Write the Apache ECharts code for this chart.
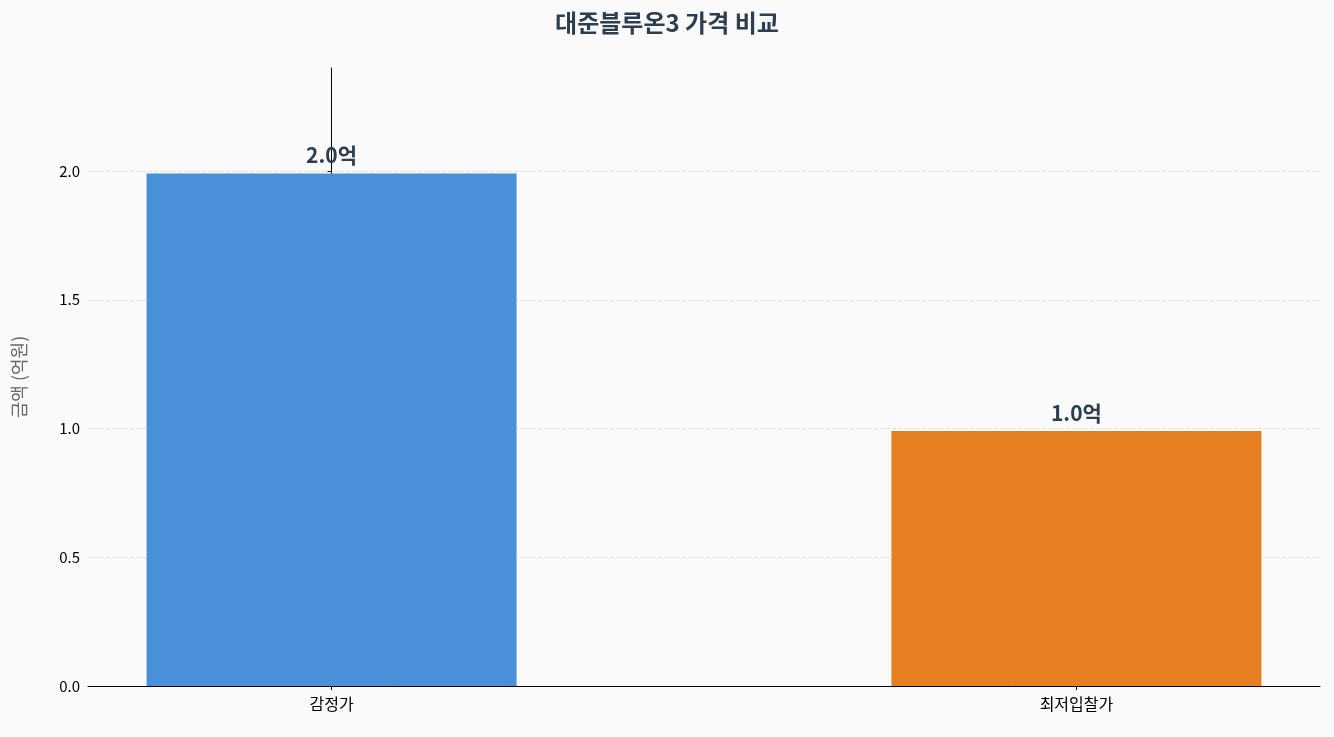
<!DOCTYPE html>
<html><head><meta charset="utf-8">
<script src="https://cdn.jsdelivr.net/npm/echarts@6/dist/echarts.min.js"></script>
<style>html,body{margin:0;background:#fafafa}#c{width:1334px;height:737px}</style>
</head><body><div id="c"></div>
<script>
const categories = ['감정가', '최저입찰가'];
const values = [1.99, 0.99];
const colors = ['#4a90d9', '#e67e22'];
const F = '"Noto Sans CJK KR","Noto Sans",sans-serif';
const chart = echarts.init(document.getElementById('c'));
chart.setOption({
  backgroundColor: '#fafafa',
  textStyle: { fontFamily: F },
  title: { text: '대준블루온3 가격 비교', left: 'center', top: 6,
    textStyle: { fontFamily: F, fontSize: 24, fontWeight: 'bold', color: '#2c3e50' } },
  grid: { left: 88, right: 14, top: 68, bottom: 51 },
  xAxis: { type: 'value', min: -0.327, max: 1.327,
    splitLine: { show: false },
    axisLine: { lineStyle: { color: '#000' } },
    axisTick: { show: true, length: 4, customValues: [0, 1], lineStyle: { color: '#000' } },
    axisLabel: { color: '#000', fontSize: 16, margin: 10, customValues: [0, 1],
      formatter: v => categories[Math.round(v)] } },
  yAxis: { type: 'value', min: 0, max: 2.4, interval: 0.5,
    name: '금액 (억원)', nameLocation: 'middle', nameGap: 60,
    nameTextStyle: { color: '#666', fontSize: 18 },
    axisLine: { show: true, lineStyle: { color: '#000' } },
    axisTick: { show: true, length: 4, lineStyle: { color: '#000' } },
    axisLabel: { color: '#000', fontSize: 15, showMaxLabel: false,
      formatter: v => v.toFixed(1) },
    splitLine: { show: true, showMaxLine: false, lineStyle: { color: '#e0e0e0', type: 'dashed' } } },
  series: [{ type: 'bar', barWidth: 370,
    data: values.map((v, i) => ({ value: [i, v], itemStyle: { color: colors[i] } })),
    label: { show: true, position: 'top', distance: 8, color: '#2c3e50', fontSize: 21, fontWeight: 'bold',
      formatter: p => p.value[1].toFixed(1) + '억' } }]
});
</script></body></html>
